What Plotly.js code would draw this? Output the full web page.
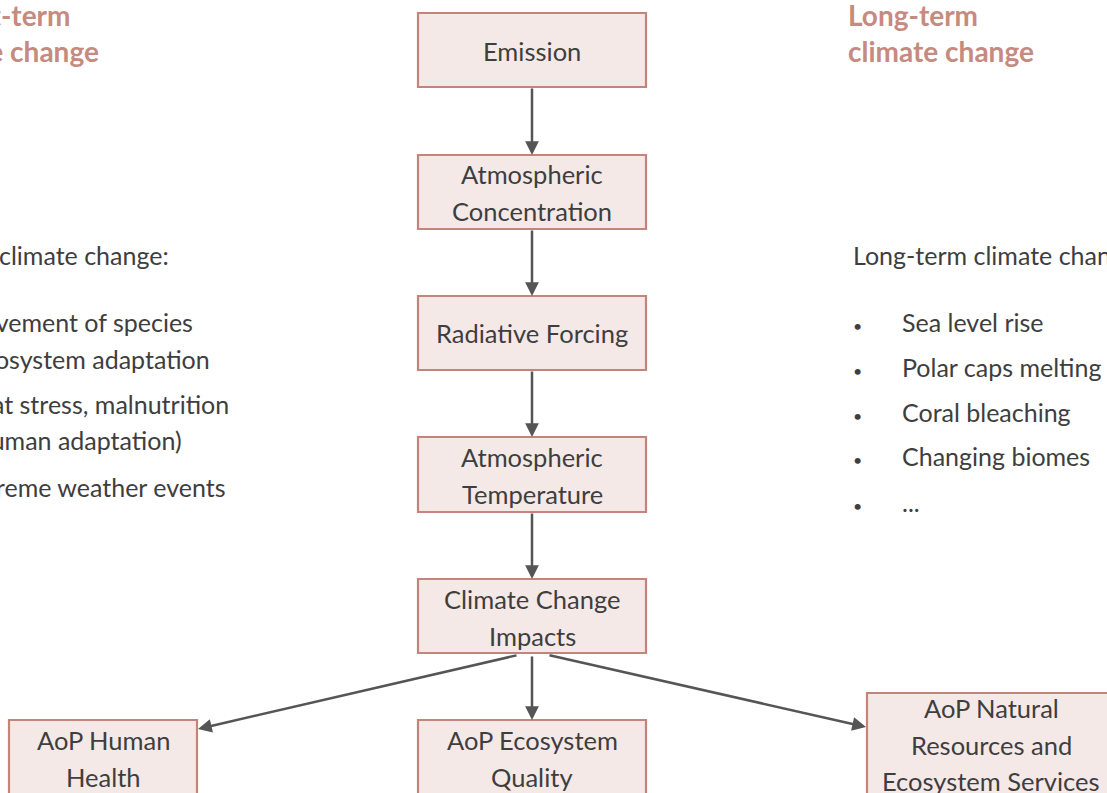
<!DOCTYPE html>
<html>
<head>
<meta charset="utf-8">
<script src="https://cdn.plot.ly/plotly-3.0.1.min.js"></script>
<style>html,body{margin:0;padding:0;background:#fff;}#chart{width:1107px;height:793px;}</style>
</head>
<body>
<div id="chart"></div>
<script>
// ---- content ----
const nodeLabels = [
  "Emission",
  "Atmospheric\nConcentration",
  "Radiative Forcing",
  "Atmospheric\nTemperature",
  "Climate Change\nImpacts",
  "AoP Human\nHealth",
  "AoP Ecosystem\nQuality",
  "AoP Natural\nResources and\nEcosystem Services"
];
const edgesFrom = [0, 1, 2, 3, 4, 4, 4];
const edgesTo   = [1, 2, 3, 4, 5, 6, 7];
const sideTitles = ["Short-term\nclimate change", "Long-term\nclimate change"];
const shortTermHeading = "Short-term climate change:";
const shortTermItems = ["Movement of species\necosystem adaptation", "Heat stress, malnutrition\n(human adaptation)", "Extreme weather events"];
const longTermHeading = "Long-term climate change:";
const longTermItems = ["Sea level rise", "Polar caps melting", "Coral bleaching", "Changing biomes", "..."];

// ---- layout geometry (pixels in a 1107x793 frame, y downward) ----
const boxGeom = [ // x0, y0, x1, y1
  [418, 13, 646, 87],
  [418, 155, 646, 229],
  [418, 296, 646, 370],
  [418, 437, 646, 512],
  [418, 579, 646, 653],
  [9, 720, 197, 830],
  [418, 720, 646, 830],
  [867, 693, 1120, 830]
];
const firstLineY = [51, 174, 333, 457, 599, 740, 740, 708];
const lineGap = 36.5;
const edgeGeom = [ // start x,y -> end x,y
  [532, 87, 532, 155],
  [532, 229, 532, 296],
  [532, 370, 532, 437],
  [532, 512, 532, 579],
  [518, 655, 198, 729],
  [532, 655, 532, 720],
  [548, 655, 866, 727]
];

const FONT = "Lato, 'Open Sans', sans-serif";
const TXT = "#3e3e3e";
const ROSE = "#c68a7f";
const shapes = [];
const annotations = [];

nodeLabels.forEach((lab, i) => {
  const g = boxGeom[i];
  shapes.push({type: "rect", xref: "x", yref: "y", x0: g[0], y0: g[1], x1: g[2], y1: g[3],
    fillcolor: "#f5e9e7", line: {color: "#c4847b", width: 2.2}, layer: "below"});
  const cx = i === 7 ? 991 : (g[0] + g[2]) / 2;
  lab.split("\n").forEach((ln, k) => {
    annotations.push({xref: "x", yref: "y", x: cx, y: firstLineY[i] + k * lineGap, text: ln,
      showarrow: false, xanchor: "center", yanchor: "middle",
      font: {family: FONT, size: 25.5, color: TXT}});
  });
});

edgesFrom.forEach((f, i) => {
  const e = edgeGeom[i];
  annotations.push({xref: "x", yref: "y", axref: "x", ayref: "y", x: e[2], y: e[3], ax: e[0], ay: e[1],
    text: "", showarrow: true, arrowhead: 2, arrowsize: 1.1, arrowwidth: 2.5, arrowcolor: "#555555",
    standoff: 0, startstandoff: 0});
});

// side titles
const titleY = [15, 51];
sideTitles[0].split("\n").forEach((ln, k) => {
  annotations.push({xref: "x", yref: "y", x: [73, 101][k], y: titleY[k], text: "<b>" + ln + "</b>", showarrow: false,
    xanchor: "right", yanchor: "middle", font: {family: FONT, size: 28, color: ROSE}});
});
sideTitles[1].split("\n").forEach((ln, k) => {
  annotations.push({xref: "x", yref: "y", x: 846, y: titleY[k], text: "<b>" + ln + "</b>", showarrow: false,
    xanchor: "left", yanchor: "middle", font: {family: FONT, size: 28, color: ROSE}});
});

// short-term list (left, partially off-frame)
const BODY = 25;
annotations.push({xref: "x", yref: "y", x: 171, y: 255, text: shortTermHeading, showarrow: false,
  xanchor: "right", yanchor: "middle", font: {family: FONT, size: BODY, color: TXT}});
const stEnds = [[195, 212], [231, 184], [228]];
const stY = [[322, 359], [404, 440], [487]];
shortTermItems.forEach((it, i) => {
  it.split("\n").forEach((ln, k) => {
    annotations.push({xref: "x", yref: "y", x: stEnds[i][k], y: stY[i][k], text: ln, showarrow: false,
      xanchor: "right", yanchor: "middle", font: {family: FONT, size: BODY, color: TXT}});
  });
});

// long-term list (right)
annotations.push({xref: "x", yref: "y", x: 851, y: 255, text: longTermHeading, showarrow: false,
  xanchor: "left", yanchor: "middle", font: {family: FONT, size: BODY, color: TXT}});
const ltY = [322, 367, 412, 456, 502];
longTermItems.forEach((it, i) => {
  annotations.push({xref: "x", yref: "y", x: 857, y: ltY[i] + 3, text: "•", showarrow: false,
    xanchor: "center", yanchor: "middle", font: {family: FONT, size: 16, color: TXT}});
  annotations.push({xref: "x", yref: "y", x: 900, y: ltY[i], text: it, showarrow: false,
    xanchor: "left", yanchor: "middle", font: {family: FONT, size: BODY, color: TXT}});
});

const layout = {
  width: 1107, height: 793,
  margin: {l: 0, r: 0, t: 0, b: 0, pad: 0},
  paper_bgcolor: "#ffffff", plot_bgcolor: "#ffffff",
  xaxis: {range: [0, 1107], visible: false, fixedrange: true},
  yaxis: {range: [793, 0], visible: false, fixedrange: true},
  showlegend: false,
  shapes: shapes,
  annotations: annotations
};
Plotly.newPlot("chart", [], layout, {staticPlot: true, displayModeBar: false});
</script>
</body>
</html>
